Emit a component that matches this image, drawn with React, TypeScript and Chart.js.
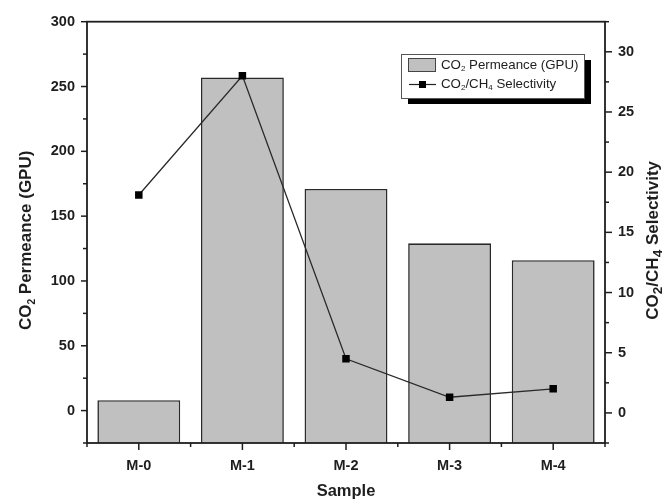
import React, { useEffect, useRef } from 'react';
import { Chart, registerables } from 'chart.js';

Chart.register(...registerables);

const categories = ['M-0', 'M-1', 'M-2', 'M-3', 'M-4'];
const permeance = [8, 257, 171, 129, 116];
const selectivity = [18.1, 28.0, 4.5, 1.3, 2.0];
const leftTicks = [0, 50, 100, 150, 200, 250, 300];
const rightTicks = [0, 5, 10, 15, 20, 25, 30];
const LEFT_MIN = -25;
const LEFT_MAX = 300;
const RIGHT_MIN = -2.5;
const RIGHT_MAX = 32.5;

type Part = { t: string; sub?: boolean };
const leftTitle: Part[] = [{ t: 'CO' }, { t: '2', sub: true }, { t: ' Permeance (GPU)' }];
const rightTitle: Part[] = [{ t: 'CO' }, { t: '2', sub: true }, { t: '/CH' }, { t: '4', sub: true }, { t: ' Selectivity' }];
const xTitle: Part[] = [{ t: 'Sample' }];
const legendBar: Part[] = [{ t: 'CO' }, { t: '2', sub: true }, { t: ' Permeance (GPU)' }];
const legendLine: Part[] = [{ t: 'CO' }, { t: '2', sub: true }, { t: '/CH' }, { t: '4', sub: true }, { t: ' Selectivity' }];

const FAMILY = '"Liberation Sans", Arial, sans-serif';
const INK = '#1e1e1e';
const BAR_FILL = '#c0c0c0';

function fontStr(size: number, bold: boolean) {
  return `${bold ? 'bold ' : ''}${size}px ${FAMILY}`;
}

function drawRich(
  ctx: CanvasRenderingContext2D,
  parts: Part[],
  x: number,
  y: number,
  size: number,
  bold: boolean,
  align: 'left' | 'center',
  subScale: number,
  subDy: number
) {
  const widths = parts.map((p) => {
    ctx.font = fontStr(p.sub ? size * subScale : size, bold);
    return ctx.measureText(p.t).width;
  });
  const total = widths.reduce((a, b) => a + b, 0);
  let cx = align === 'center' ? x - total / 2 : x;
  ctx.textAlign = 'left';
  ctx.textBaseline = 'middle';
  parts.forEach((p, i) => {
    ctx.font = fontStr(p.sub ? size * subScale : size, bold);
    ctx.fillText(p.t, cx, y + (p.sub ? subDy : 0));
    cx += widths[i];
  });
}

function line(ctx: CanvasRenderingContext2D, x1: number, y1: number, x2: number, y2: number) {
  ctx.beginPath();
  ctx.moveTo(x1, y1);
  ctx.lineTo(x2, y2);
  ctx.stroke();
}

const decor = {
  id: 'decor',
  afterDatasetsDraw(chart: any) {
    const { ctx, chartArea: a, scales } = chart;
    ctx.save();
    ctx.strokeStyle = INK;
    ctx.lineWidth = 1.8;
    ctx.strokeRect(a.left, a.top, a.right - a.left, a.bottom - a.top);
    ctx.lineWidth = 1.5;
    const yL = scales.y;
    for (let v = LEFT_MIN; v <= LEFT_MAX + 1e-9; v += 25) {
      const py = yL.getPixelForValue(v);
      const major = Math.abs(v % 50) < 1e-9;
      line(ctx, a.left - (major ? 6 : 4), py, a.left, py);
    }
    const yR = scales.y1;
    for (let v = RIGHT_MIN; v <= RIGHT_MAX + 1e-9; v += 2.5) {
      const py = yR.getPixelForValue(v);
      const major = Math.abs(v % 5) < 1e-9;
      line(ctx, a.right, py, a.right + (major ? 7 : 4), py);
    }
    const xs = scales.x;
    const n = categories.length;
    for (let i = 0; i < n; i++) {
      const px = xs.getPixelForValue(i);
      line(ctx, px, a.bottom, px, a.bottom + 7);
    }
    for (let i = 0; i <= n; i++) {
      const px = a.left + ((a.right - a.left) * i) / n;
      line(ctx, px, a.bottom, px, a.bottom + 4);
    }
    ctx.fillStyle = INK;
    // left title
    ctx.save();
    ctx.translate(26, (a.top + a.bottom) / 2 + 8);
    ctx.rotate(-Math.PI / 2);
    drawRich(ctx, leftTitle, 0, 0, 17, true, 'center', 0.6, 6);
    ctx.restore();
    // right title
    ctx.save();
    ctx.translate(653, (a.top + a.bottom) / 2 + 8);
    ctx.rotate(-Math.PI / 2);
    drawRich(ctx, rightTitle, 0, 0, 17, true, 'center', 0.8, 5);
    ctx.restore();
    // x title
    drawRich(ctx, xTitle, (a.left + a.right) / 2, 491, 16.5, true, 'center', 0.6, 5);
    ctx.restore();
  },
  afterDraw(chart: any) {
    const { ctx } = chart;
    ctx.save();
    const bx = 401, by = 54, bw = 183, bh = 44;
    ctx.fillStyle = '#000';
    ctx.fillRect(bx + 7, by + 6, bw, bh);
    ctx.fillStyle = '#fff';
    ctx.fillRect(bx, by, bw, bh);
    ctx.strokeStyle = '#555';
    ctx.lineWidth = 1;
    ctx.strokeRect(bx + 0.5, by + 0.5, bw, bh);
    // bar swatch
    ctx.fillStyle = BAR_FILL;
    ctx.fillRect(408, 58, 28, 14);
    ctx.strokeStyle = '#444';
    ctx.strokeRect(408.5, 58.5, 27, 13);
    ctx.fillStyle = INK;
    drawRich(ctx, legendBar, 441, 65, 13.3, false, 'left', 0.6, 4);
    // line swatch
    ctx.strokeStyle = '#222';
    ctx.lineWidth = 1.2;
    line(ctx, 409, 84.5, 436, 84.5);
    ctx.fillStyle = '#000';
    ctx.fillRect(419, 81, 7, 7);
    ctx.fillStyle = INK;
    drawRich(ctx, legendLine, 441, 84, 13.3, false, 'left', 0.6, 4);
    ctx.restore();
  },
};

export default function App() {
  const ref = useRef<HTMLCanvasElement | null>(null);
  useEffect(() => {
    if (!ref.current) return;
    const tickFont = { family: FAMILY, size: 14.5, weight: 'bold' as const };
    const chart = new Chart(ref.current, {
      type: 'bar',
      data: {
        labels: categories,
        datasets: [
          {
            type: 'bar',
            label: 'CO2 Permeance (GPU)',
            data: permeance,
            yAxisID: 'y',
            base: LEFT_MIN,
            backgroundColor: BAR_FILL,
            borderColor: '#2a2a2a',
            borderWidth: 1.6,
            categoryPercentage: 1,
            barPercentage: 0.8,
            order: 1,
          } as any,
          {
            type: 'line',
            label: 'CO2/CH4 Selectivity',
            data: selectivity,
            yAxisID: 'y1',
            borderColor: '#2a2a2a',
            borderWidth: 1.3,
            pointStyle: 'rect',
            pointRadius: 5.3,
            pointBackgroundColor: '#000',
            pointBorderColor: '#000',
            pointBorderWidth: 0,
            fill: false,
            tension: 0,
            order: 0,
          } as any,
        ],
      },
      options: {
        animation: false,
        responsive: false,
        maintainAspectRatio: false,
        devicePixelRatio: 1,
        layout: { padding: { top: 21, left: 0, right: 0, bottom: 0 } },
        plugins: { legend: { display: false }, tooltip: { enabled: false } },
        scales: {
          x: {
            type: 'category',
            offset: true,
            grid: { display: false, drawTicks: false },
            border: { display: false },
            ticks: { font: tickFont, color: INK, padding: 14, maxRotation: 0 },
            afterFit: (s: any) => {
              s.height = 58;
            },
          },
          y: {
            type: 'linear',
            position: 'left',
            min: LEFT_MIN,
            max: LEFT_MAX,
            grid: { display: false, drawTicks: false },
            border: { display: false },
            ticks: { font: tickFont, color: INK, padding: 12 },
            afterBuildTicks: (s: any) => {
              s.ticks = leftTicks.map((v) => ({ value: v }));
            },
            afterFit: (s: any) => {
              s.width = 87;
            },
          },
          y1: {
            type: 'linear',
            position: 'right',
            min: RIGHT_MIN,
            max: RIGHT_MAX,
            grid: { display: false, drawTicks: false },
            border: { display: false },
            ticks: { font: tickFont, color: INK, padding: 13 },
            afterBuildTicks: (s: any) => {
              s.ticks = rightTicks.map((v) => ({ value: v }));
            },
            afterFit: (s: any) => {
              s.width = 62;
            },
          },
        },
      } as any,
      plugins: [decor],
    });
    return () => chart.destroy();
  }, []);
  return (
    <div style={{ position: 'fixed', left: 0, top: 0, width: 667, height: 501, background: '#fff' }}>
      <canvas ref={ref} width={667} height={501} style={{ width: 667, height: 501 }} />
    </div>
  );
}
